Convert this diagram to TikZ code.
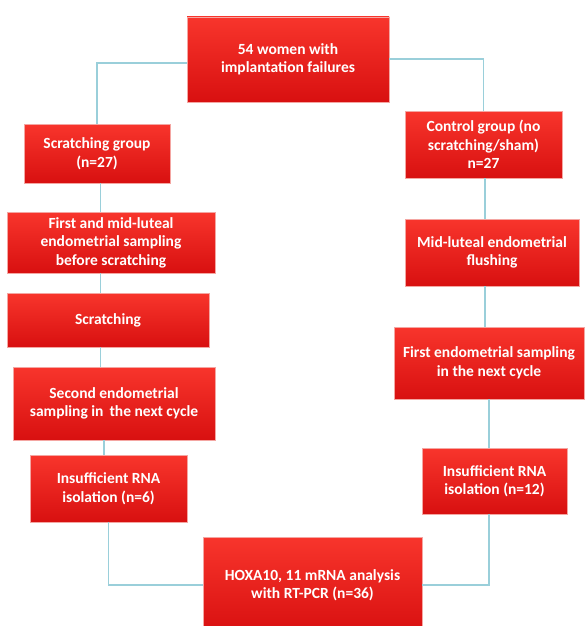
\documentclass[tikz,border=0pt]{standalone}
\usepackage{fontspec}
\setmainfont{Carlito}
\usepackage{tikz}
\usetikzlibrary{positioning, calc}
\definecolor{flow-red-top}{HTML}{F8352C}
\definecolor{flow-red-bot}{HTML}{D81010}
\definecolor{flow-edge}{HTML}{F4A6A2}
\definecolor{flow-link}{HTML}{9ACFDA}

\begin{document}
\begin{tikzpicture}[
    x=1pt, y=-1pt,
    box/.style={rectangle, draw=flow-edge, line width=0.6pt,
        top color=flow-red-top, bottom color=flow-red-bot,
        text=white, align=center, inner sep=2pt,
        font=\fontsize{15.5}{18.5}\selectfont\bfseries},
    link/.style={draw=flow-link, line width=1.1pt},
]
    % Canvas
    \clip (0,0) rectangle (587,626);
    \fill[white] (0,0) rectangle (587,626);

    % Column guides for the vertical links
    \coordinate (leftcol) at (100.5,0);
    \coordinate (leftlow) at (104,0);
    \coordinate (rightcol) at (485,0);
    \coordinate (rightlow) at (489,0);
    \coordinate (leftbranch) at (0,63);
    \coordinate (rightbranch) at (0,59);

    % Top
    \node[box, minimum width=202pt, minimum height=85pt] (women) at (288,59.5)
        {54 women with\\implantation failures};

    % Scratching arm
    \node[box, minimum width=146pt, minimum height=59pt] (scrgroup) at (97,153.5)
        {Scratching group\\(n=27)};
    \node[box, minimum width=208pt, minimum height=61pt] (firstmid) at (111,242.5)
        {First and mid-luteal\\endometrial sampling\\before scratching};
    \node[box, minimum width=202pt, minimum height=54pt] (scratch) at (108,320)
        {Scratching};
    \node[box, minimum width=202pt, minimum height=73pt] (second) at (114,403.5)
        {Second endometrial\\sampling in\, the next cycle};
    \node[box, minimum width=157pt, minimum height=67pt] (lossleft) at (108.5,488.5)
        {Insufficient RNA\\isolation (n=6)};

    % Control arm
    \node[box, minimum width=157pt, minimum height=67pt] (ctrlgroup) at (483.5,144.5)
        {Control group (no\\scratching/sham)\\n=27};
    \node[box, minimum width=174pt, minimum height=67pt] (flushing) at (492,252.5)
        {Mid-luteal endometrial\\flushing};
    \node[box, minimum width=190pt, minimum height=72pt] (firstnext) at (489,363)
        {First endometrial sampling\\in the next cycle};
    \node[box, minimum width=145pt, minimum height=66pt] (lossright) at (494.5,481)
        {Insufficient RNA\\isolation (n=12)};

    % Bottom
    \node[box, minimum width=219pt, minimum height=96pt] (hoxa) at (312.5,585)
        {HOXA10, 11 mRNA analysis\\with RT-PCR (n=36)};

    % Links
    \draw[link] (women.west |- leftbranch) -| (scrgroup.north);
    \draw[link] (women.east |- rightbranch) -| (ctrlgroup.north);

    \draw[link] (leftcol |- scrgroup.south) -- (leftcol |- firstmid.north);
    \draw[link] (leftcol |- firstmid.south) -- (leftcol |- scratch.north);
    \draw[link] (leftcol |- scratch.south) -- (leftcol |- second.north);
    \draw[link] (leftlow |- second.south) -- (leftlow |- lossleft.north);
    \draw[link] (lossleft.south) |- (hoxa.west);

    \draw[link] (rightcol |- ctrlgroup.south) -- (rightcol |- flushing.north);
    \draw[link] (rightcol |- flushing.south) -- (rightcol |- firstnext.north);
    \draw[link] (rightlow |- firstnext.south) -- (rightlow |- lossright.north);
    \draw[link] (rightlow |- lossright.south) |- (hoxa.east);
\end{tikzpicture}
\end{document}
